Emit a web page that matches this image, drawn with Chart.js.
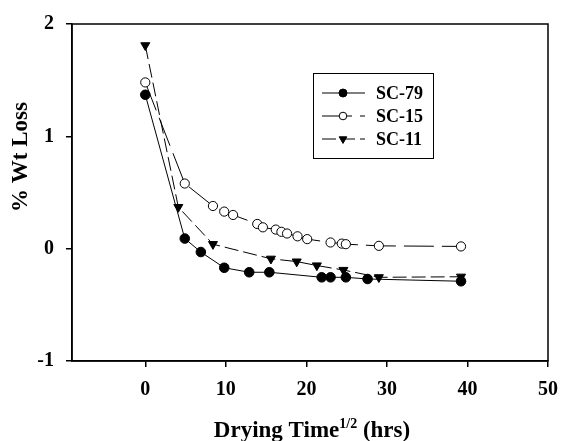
<!DOCTYPE html>
<html>
<head>
<meta charset="utf-8">
<script src="https://cdn.jsdelivr.net/npm/chart.js@4.4.1/dist/chart.umd.min.js"></script>
<style>
  html, body { margin: 0; padding: 0; background: #fff; }
  #wrap { width: 569px; height: 441px; position: relative; }
</style>
</head>
<body>
<div id="wrap"><canvas id="lossChart" width="569" height="441"></canvas></div>
<script>
// values (x = drying time^1/2, y = % wt loss)
const sc79_x = [0, 4.9, 6.9, 9.8, 12.9, 15.4, 21.9, 23.0, 24.9, 27.6, 39.2];
const sc79_y = [1.37, 0.09, -0.03, -0.17, -0.21, -0.21, -0.255, -0.255, -0.255, -0.27, -0.29];

const sc15_x = [0, 4.9, 8.4, 9.8, 10.9, 13.9, 14.6, 16.2, 16.9, 17.6, 18.9, 20.1, 23.0, 24.4, 24.9, 29.0, 39.2];
const sc15_y = [1.48, 0.58, 0.38, 0.33, 0.30, 0.22, 0.19, 0.17, 0.15, 0.135, 0.11, 0.085, 0.055, 0.045, 0.04, 0.025, 0.02];

const sc11_x = [0, 4.1, 8.4, 15.6, 18.8, 21.3, 24.6, 29.0, 39.2];
const sc11_y = [1.81, 0.37, 0.04, -0.09, -0.115, -0.15, -0.19, -0.255, -0.25];

const seriesNames = ["SC-79", "SC-15", "SC-11"];
const xTicks = [0, 10, 20, 30, 40, 50];
const yTicks = [-1, 0, 1, 2];

const FONT = "'Liberation Serif', 'Times New Roman', serif";

function pts(xs, ys) {
  return xs.map(function (x, i) { return { x: x, y: ys[i] }; });
}

// frame, boxed legend and axis titles (the x title has a superscript)
const decorPlugin = {
  id: "decor",
  afterDraw: function (chart) {
    const ctx = chart.ctx;
    const a = chart.chartArea;
    ctx.save();
    ctx.strokeStyle = "#000";
    ctx.lineWidth = 1.5;
    ctx.strokeRect(a.left, a.top, a.right - a.left, a.bottom - a.top);

    // legend box
    const bx = 313, by = 73, bw = 120, bh = 85;
    ctx.lineWidth = 1;
    ctx.strokeRect(bx + 0.5, by + 0.5, bw, bh);
    ctx.font = "bold 18px " + FONT;
    ctx.textBaseline = "middle";
    ctx.fillStyle = "#000";
    chart.data.datasets.forEach(function (ds, i) {
      const ly = by + 20 + i * 23;
      ctx.beginPath();
      ctx.setLineDash(ds.borderDash || []);
      ctx.lineWidth = 1;
      ctx.moveTo(322, ly);
      ctx.lineTo(365, ly);
      ctx.stroke();
      ctx.setLineDash([]);
      ctx.fillStyle = ds.pointBackgroundColor;
      ctx.strokeStyle = "#000";
      Chart.helpers.drawPoint(ctx, {
        pointStyle: ds.pointStyle,
        rotation: ds.pointRotation || 0,
        radius: ds.pointRadius - 0.8,
        borderWidth: 1
      }, 343, ly);
      ctx.fillStyle = "#000";
      ctx.textAlign = "left";
      ctx.fillText(ds.label, 376, ly + 1);
    });

    // y title
    ctx.save();
    ctx.translate(27, 157);
    ctx.rotate(-Math.PI / 2);
    ctx.textAlign = "center";
    ctx.textBaseline = "alphabetic";
    ctx.font = "bold 23px " + FONT;
    ctx.fillText("% Wt Loss", 0, 0);
    ctx.restore();

    // x title with superscript
    const big = "bold 23px " + FONT, small = "bold 14px " + FONT;
    const p1 = "Drying Time", sup = "1/2", p2 = " (hrs)";
    ctx.font = big;
    const w1 = ctx.measureText(p1).width, w3 = ctx.measureText(p2).width;
    ctx.font = small;
    const w2 = ctx.measureText(sup).width;
    let tx = 312 - (w1 + w2 + w3) / 2;
    const ty = 437;
    ctx.textAlign = "left";
    ctx.textBaseline = "alphabetic";
    ctx.font = big;
    ctx.fillText(p1, tx, ty);
    tx += w1;
    ctx.font = small;
    ctx.fillText(sup, tx, ty - 9);
    tx += w2;
    ctx.font = big;
    ctx.fillText(p2, tx, ty);
    ctx.restore();
  }
};

new Chart("lossChart", {
  type: "scatter",
  data: {
    datasets: [{
      label: seriesNames[0],
      data: pts(sc79_x, sc79_y),
      showLine: true,
      borderColor: "#000",
      borderWidth: 1,
      pointStyle: "circle",
      pointRadius: 4.8,
      pointBackgroundColor: "#000",
      pointBorderColor: "#000",
      pointBorderWidth: 1
    }, {
      label: seriesNames[1],
      data: pts(sc15_x, sc15_y),
      showLine: true,
      borderColor: "#000",
      borderWidth: 1,
      borderDash: [30, 8],
      pointStyle: "circle",
      pointRadius: 4.6,
      pointBackgroundColor: "#fff",
      pointBorderColor: "#000",
      pointBorderWidth: 1
    }, {
      label: seriesNames[2],
      data: pts(sc11_x, sc11_y),
      showLine: true,
      borderColor: "#000",
      borderWidth: 1,
      borderDash: [14, 5],
      pointStyle: "triangle",
      pointRotation: 180,
      pointRadius: 5.2,
      pointBackgroundColor: "#000",
      pointBorderColor: "#000",
      pointBorderWidth: 1
    }]
  },
  options: {
    responsive: false,
    animation: false,
    layout: { padding: { left: 0, right: 12, top: 20, bottom: 0 } },
    plugins: { legend: { display: false }, tooltip: { enabled: false } },
    scales: {
      x: {
        type: "linear",
        min: -9.1,
        max: 50,
        afterBuildTicks: function (s) { s.ticks = xTicks.map(function (v) { return { value: v }; }); },
        afterFit: function (s) { s.height = 80; },
        grid: { drawOnChartArea: false, color: "#000", lineWidth: 1.5, tickLength: 6 },
        border: { display: true, color: "#000", width: 1.5 },
        ticks: { color: "#000", padding: 11, maxRotation: 0, font: { family: FONT, size: 20, weight: "bold" } }
      },
      y: {
        min: -1,
        max: 2,
        afterBuildTicks: function (s) { s.ticks = yTicks.map(function (v) { return { value: v }; }); },
        afterFit: function (s) { s.width = 72; },
        grid: { drawOnChartArea: false, color: "#000", lineWidth: 1.5, tickLength: 6 },
        border: { display: true, color: "#000", width: 1.5 },
        ticks: { color: "#000", padding: 12, font: { family: FONT, size: 20, weight: "bold" } }
      }
    }
  },
  plugins: [decorPlugin]
});
</script>
</body>
</html>
